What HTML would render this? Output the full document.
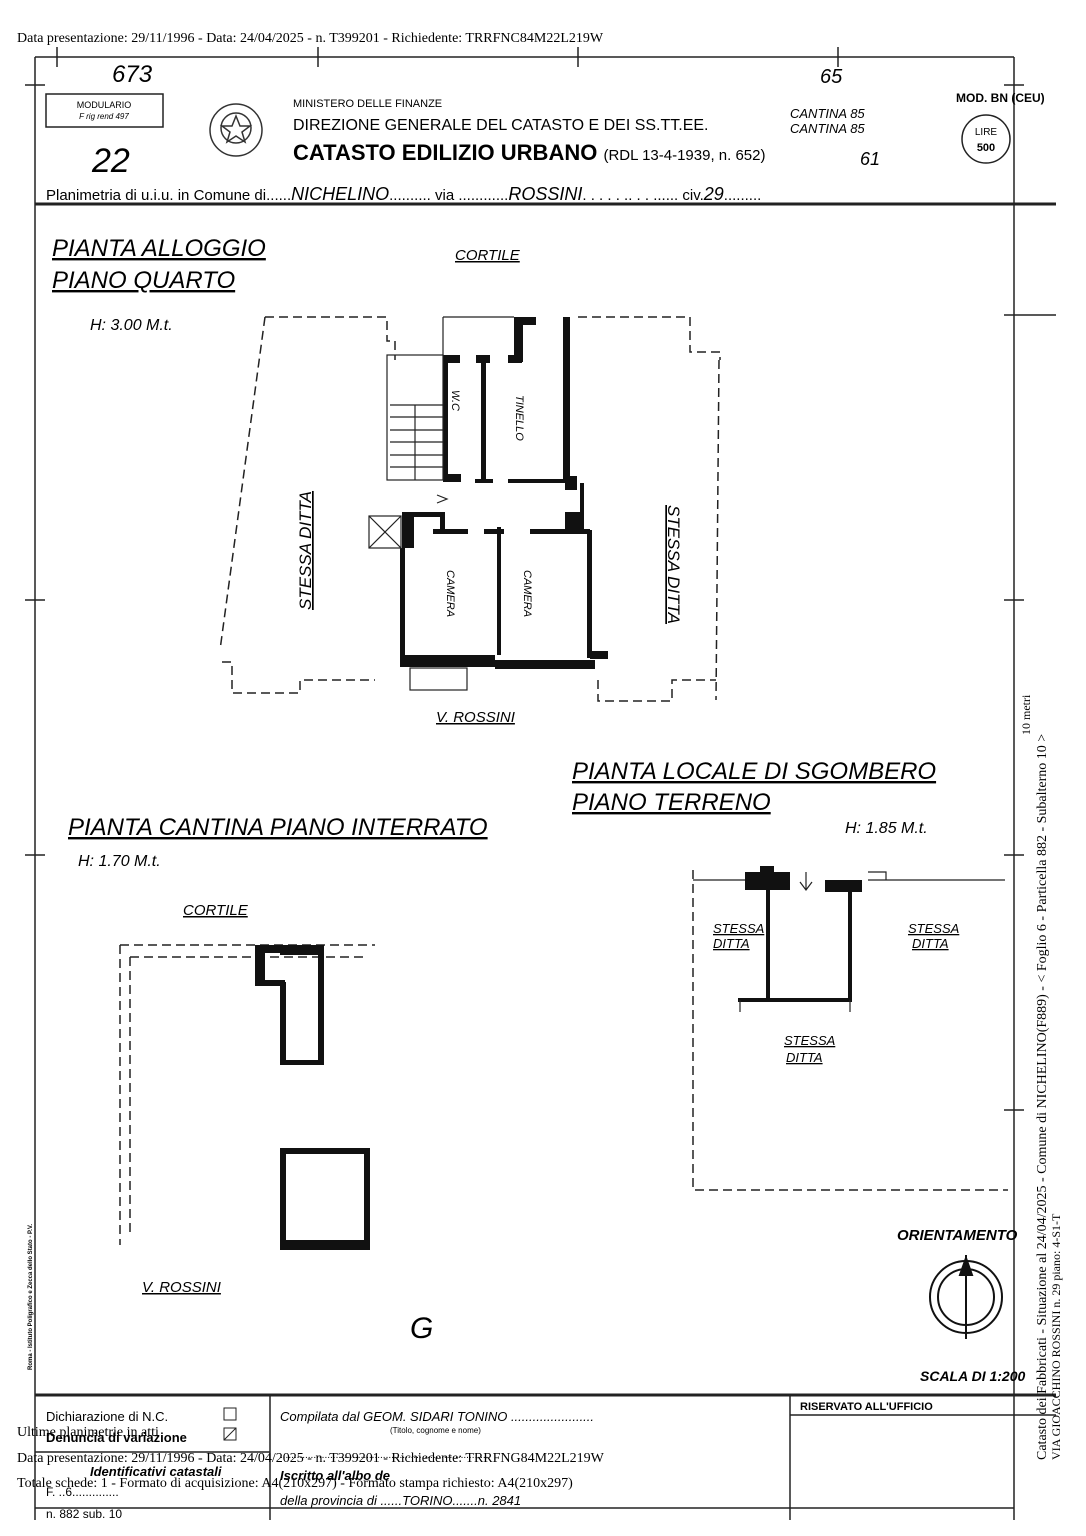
<!DOCTYPE html>
<html><head><meta charset="utf-8"><style>
body{margin:0;background:#fff}
svg{display:block}
.s{font-family:"Liberation Sans",sans-serif}
.r{font-family:"Liberation Serif",serif}
.h{font-family:"Liberation Sans",sans-serif;font-style:italic}
</style></head><body>
<svg width="1086" height="1536" viewBox="0 0 1086 1536" xmlns="http://www.w3.org/2000/svg">
<text x="17" y="42" class="r" font-size="14">Data presentazione: 29/11/1996 - Data: 24/04/2025 - n. T399201 - Richiedente: TRRFNC84M22L219W</text>
<!-- frame -->
<g stroke="#222" fill="none" stroke-width="1.5">
<line x1="35" y1="57" x2="1014" y2="57"/>
<line x1="35" y1="57" x2="35" y2="1520"/>
<line x1="1014" y1="57" x2="1014" y2="1520"/>
<line x1="35" y1="204" x2="1056" y2="204" stroke-width="3"/>
<line x1="35" y1="1395" x2="1056" y2="1395" stroke-width="3"/>
<line x1="270" y1="1395" x2="270" y2="1520"/>
<line x1="790" y1="1395" x2="790" y2="1520"/>
<line x1="35" y1="1452" x2="270" y2="1452"/>
<line x1="790" y1="1415" x2="1056" y2="1415"/>
<line x1="35" y1="1508" x2="1014" y2="1508"/>
<line x1="57" y1="47" x2="57" y2="67"/><line x1="318" y1="47" x2="318" y2="67"/><line x1="578" y1="47" x2="578" y2="67"/><line x1="838" y1="47" x2="838" y2="67"/>
<line x1="25" y1="85" x2="45" y2="85"/><line x1="1004" y1="85" x2="1024" y2="85"/>
<line x1="1004" y1="315" x2="1056" y2="315"/><line x1="25" y1="600" x2="45" y2="600"/><line x1="1004" y1="600" x2="1024" y2="600"/>
<line x1="25" y1="855" x2="45" y2="855"/><line x1="1004" y1="855" x2="1024" y2="855"/><line x1="1004" y1="1110" x2="1024" y2="1110"/>
<rect x="46" y="94" width="117" height="33"/>
</g>
<text x="104" y="108" class="s" font-size="9" text-anchor="middle">MODULARIO</text>
<text x="104" y="119" class="s" font-size="8" font-style="italic" text-anchor="middle">F rig rend 497</text>
<text x="112" y="82" class="h" font-size="24">673</text>
<text x="92" y="172" class="h" font-size="34">22</text>
<text x="820" y="83" class="h" font-size="20">65</text>
<!-- emblem -->
<g stroke="#333" fill="none" stroke-width="1.5"><circle cx="236" cy="130" r="26"/><circle cx="236" cy="128" r="15"/><path d="M236 116 l4 10 h10 l-8 6 3 10 -9 -6 -9 6 3 -10 -8 -6 h10z"/></g>
<text x="293" y="107" class="s" font-size="11">MINISTERO DELLE FINANZE</text>
<text x="293" y="130" class="s" font-size="16">DIREZIONE GENERALE DEL CATASTO E DEI SS.TT.EE.</text>
<text x="293" y="160" class="s" font-size="22" font-weight="bold">CATASTO EDILIZIO URBANO <tspan font-size="15" font-weight="normal">(RDL 13-4-1939, n. 652)</tspan></text>
<text x="790" y="118" class="h" font-size="13">CANTINA 85</text>
<text x="790" y="133" class="h" font-size="13">CANTINA 85</text>
<text x="860" y="165" class="h" font-size="18">61</text>
<text x="956" y="102" class="s" font-size="12" font-weight="bold">MOD. BN (CEU)</text>
<circle cx="986" cy="139" r="24" fill="none" stroke="#222" stroke-width="1.5"/>
<text x="986" y="135" class="s" font-size="10" text-anchor="middle">LIRE</text>
<text x="986" y="151" class="s" font-size="11" font-weight="bold" text-anchor="middle">500</text>
<text x="46" y="200" class="s" font-size="15">Planimetria di u.i.u. in Comune di......<tspan class="h" font-size="18">NICHELINO</tspan>.......... via ............<tspan class="h" font-size="18">ROSSINI</tspan>. . . . . .. . . ...... civ.<tspan class="h" font-size="18">29</tspan>.........</text>
<!-- titles -->
<g class="h" font-size="24" text-decoration="underline">
<text x="52" y="256">PIANTA ALLOGGIO</text>
<text x="52" y="288">PIANO QUARTO</text>
<text x="68" y="835">PIANTA CANTINA PIANO INTERRATO</text>
<text x="572" y="779">PIANTA LOCALE DI SGOMBERO</text>
<text x="572" y="810">PIANO TERRENO</text>
</g>
<text x="90" y="330" class="h" font-size="16">H: 3.00 M.t.</text>
<text x="78" y="866" class="h" font-size="16">H: 1.70 M.t.</text>
<text x="845" y="833" class="h" font-size="16">H: 1.85 M.t.</text>
<g class="h" font-size="15" text-decoration="underline">
<text x="455" y="260">CORTILE</text>
<text x="183" y="915">CORTILE</text>
<text x="436" y="722">V. ROSSINI</text>
<text x="142" y="1292">V. ROSSINI</text>
<text x="713" y="933" font-size="13">STESSA</text><text x="713" y="948" font-size="13">DITTA</text>
<text x="908" y="933" font-size="13">STESSA</text><text x="912" y="948" font-size="13">DITTA</text>
<text x="784" y="1045" font-size="13">STESSA</text><text x="786" y="1062" font-size="13">DITTA</text>
<text x="0" y="0" transform="translate(311,610) rotate(-90)" font-size="17">STESSA DITTA</text>
<text x="0" y="0" transform="translate(668,505) rotate(90)" font-size="17">STESSA DITTA</text>
</g>
<!-- plan 1 dashed -->
<g stroke="#222" fill="none" stroke-width="1.5" stroke-dasharray="9,5">
<path d="M265 317 H387 V341 H395 V360"/>
<path d="M265 317 L220 650"/>
<path d="M222 662 H232 V693 H300 V680 H375"/>
<path d="M578 317 H690 V352 H720 V360"/>
<path d="M719 360 L716 700"/>
<path d="M598 680 V701 H672 V680 H716"/>
<path d="M120 945 H375 M130 957 H365 M120 945 V1245 M130 957 V1235"/>
<path d="M693 870 V1190 H1008"/>
</g>
<!-- plan 1 walls -->
<g fill="#111">
<rect x="514" y="317" width="9" height="45"/><rect x="522" y="317" width="14" height="8"/>
<rect x="563" y="317" width="7" height="165"/>
<rect x="443" y="357" width="5" height="125"/><rect x="481" y="357" width="5" height="125"/>
<rect x="443" y="355" width="17" height="8"/><rect x="476" y="355" width="14" height="8"/>
<rect x="508" y="355" width="14" height="8"/>
<rect x="443" y="474" width="18" height="8"/><rect x="475" y="479" width="18" height="4"/>
<rect x="508" y="479" width="62" height="4"/>
<rect x="565" y="476" width="12" height="14"/>
<rect x="580" y="483" width="4" height="50"/>
<rect x="565" y="512" width="15" height="22"/>
<rect x="402" y="512" width="12" height="36"/><rect x="414" y="512" width="30" height="5"/>
<rect x="440" y="512" width="5" height="20"/>
<rect x="433" y="529" width="35" height="5"/><rect x="484" y="529" width="20" height="5"/>
<rect x="497" y="527" width="4" height="128"/><rect x="530" y="529" width="60" height="5"/>
<rect x="400" y="548" width="5" height="110"/><rect x="587" y="530" width="5" height="128"/>
<rect x="400" y="655" width="95" height="12"/><rect x="495" y="660" width="100" height="9"/>
<rect x="590" y="651" width="18" height="8"/>
<rect x="280" y="945" width="40" height="10"/><rect x="255" y="945" width="10" height="40"/>
<rect x="255" y="945" width="25" height="8"/>
<rect x="318" y="945" width="6" height="120"/><rect x="280" y="982" width="6" height="83"/><rect x="280" y="1060" width="44" height="5"/>
<rect x="255" y="980" width="30" height="6"/>
<rect x="280" y="1148" width="90" height="6"/><rect x="280" y="1148" width="6" height="102"/><rect x="364" y="1148" width="6" height="102"/><rect x="280" y="1240" width="90" height="10"/>
<rect x="745" y="872" width="45" height="18"/><rect x="760" y="866" width="14" height="8"/><rect x="825" y="880" width="37" height="12"/>
<rect x="766" y="888" width="4" height="113"/><rect x="848" y="888" width="4" height="113"/><rect x="738" y="998" width="114" height="4"/>
</g>
<g stroke="#222" fill="none" stroke-width="1.2">
<rect x="387" y="355" width="56" height="125"/>
<path d="M390 405 H443 M390 417 H443 M390 430 H443 M390 442 H443 M390 455 H443 M390 467 H443 M415 405 V480"/>
<rect x="369" y="516" width="32" height="32"/><path d="M369 516 L401 548 M401 516 L369 548"/>
<rect x="410" y="668" width="57" height="22"/>
<path d="M443 317 H514 M443 317 V355"/>
<path d="M740 1000 V1012 M850 1000 V1012 M868 880 H1005 M693 880 H745 M868 872 h18 v8"/>
<path d="M806 872 V890 M800 882 l6 8 6 -8"/>
<path d="M437 495 l10 4 -10 4"/>
</g>
<g class="h" font-size="11">
<text transform="translate(452,390) rotate(90)">W.C</text>
<text transform="translate(516,395) rotate(90)">TINELLO</text>
<text transform="translate(447,570) rotate(90)">CAMERA</text>
<text transform="translate(524,570) rotate(90)">CAMERA</text>
</g>
<!-- orientation -->
<text x="897" y="1240" class="s" font-size="15" font-weight="bold" font-style="italic">ORIENTAMENTO</text>
<g stroke="#111" fill="none" stroke-width="2"><circle cx="966" cy="1297" r="36"/><circle cx="966" cy="1297" r="28"/><line x1="966" y1="1255" x2="966" y2="1339"/><path d="M960 1275 L966 1258 L972 1275z" fill="#111"/></g>
<text x="920" y="1381" class="s" font-size="14" font-weight="bold" font-style="italic">SCALA DI 1:200</text>
<text x="410" y="1338" class="h" font-size="30">G</text>
<!-- bottom table -->
<text x="46" y="1421" class="s" font-size="13">Dichiarazione di N.C.</text>
<text x="46" y="1442" class="s" font-size="13" font-weight="bold">Denuncia di variazione</text>
<rect x="224" y="1408" width="12" height="12" fill="none" stroke="#222"/>
<rect x="224" y="1428" width="12" height="12" fill="none" stroke="#222"/><line x1="224" y1="1440" x2="236" y2="1428" stroke="#222"/>
<text x="280" y="1421" class="s" font-size="13" font-style="italic">Compilata dal <tspan class="h" font-size="13">GEOM. SIDARI TONINO</tspan> .......................</text>
<text x="390" y="1433" class="s" font-size="8">(Titolo, cognome e nome)</text>
<text x="280" y="1458" class="s" font-size="10">...........................................................................</text>
<text x="280" y="1480" class="s" font-size="13" font-style="italic" font-weight="bold">Iscritto all'albo de</text>
<text x="280" y="1505" class="s" font-size="13" font-style="italic">della provincia di ......<tspan class="h">TORINO</tspan>.......n. 2841</text>
<text x="90" y="1476" class="s" font-size="13" font-style="italic" font-weight="bold">Identificativi catastali</text>
<text x="46" y="1496" class="s" font-size="12">F. ..6..............</text>
<text x="46" y="1518" class="s" font-size="12">n. 882     sub. 10</text>
<text x="800" y="1410" class="s" font-size="11" font-weight="bold">RISERVATO ALL'UFFICIO</text>
<g class="r" font-size="14">
<text x="17" y="1436">Ultime planimetrie in atti</text>
<text x="17" y="1462">Data presentazione: 29/11/1996 - Data: 24/04/2025 - n. T399201 - Richiedente: TRRFNG84M22L219W</text>
<text x="17" y="1487">Totale schede: 1 - Formato di acquisizione: A4(210x297) - Formato stampa richiesto: A4(210x297)</text>
<text transform="translate(1046,1460) rotate(-90)">Catasto dei Fabbricati - Situazione al 24/04/2025 - Comune di NICHELINO(F889) - &lt; Foglio 6 - Particella 882 - Subalterno 10 &gt;</text>
<text transform="translate(1030,735) rotate(-90)" font-size="12">10 metri</text>
<text transform="translate(1060,1460) rotate(-90)" font-size="12">VIA GIOACCHINO ROSSINI n. 29 piano: 4-S1-T</text>
</g>
<text transform="translate(32,1370) rotate(-90)" class="s" font-size="6" font-weight="bold">Roma - Istituto Poligrafico e Zecca dello Stato - P.V.</text>
</svg>
</body></html>
